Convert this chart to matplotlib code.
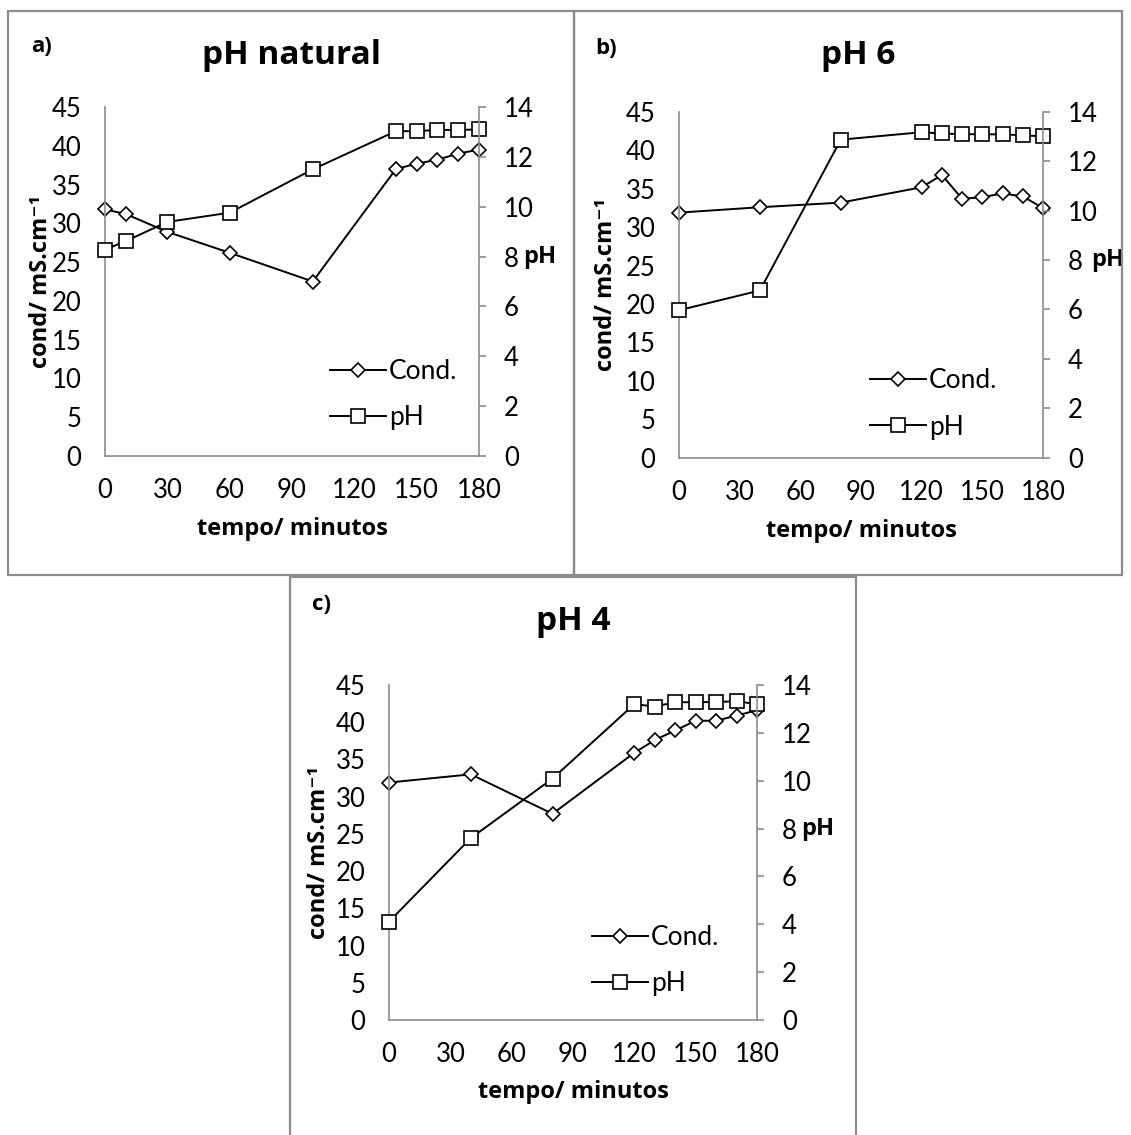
import matplotlib
matplotlib.use("Agg")
import matplotlib.pyplot as plt
from matplotlib.patches import Rectangle

W, H = 1131, 1135

# data
t_a = [0, 10, 30, 60, 100, 140, 150, 160, 170, 180]
cond_a = [31.8, 31.2, 28.9, 26.2, 22.5, 37.0, 37.7, 38.2, 39.0, 39.5]
ph_a = [8.28, 8.62, 9.39, 9.76, 11.5, 13.03, 13.03, 13.08, 13.08, 13.1]

t_b = [0, 40, 80, 120, 130, 140, 150, 160, 170, 180]
cond_b = [31.9, 32.6, 33.2, 35.2, 36.8, 33.7, 33.9, 34.4, 34.0, 32.5]
ph_b = [5.97, 6.77, 12.88, 13.18, 13.13, 13.1, 13.1, 13.09, 13.06, 13.01]

t_c = [0, 40, 80, 120, 130, 140, 150, 160, 170, 180]
cond_c = [31.9, 33.0, 27.7, 35.9, 37.6, 38.9, 40.2, 40.2, 40.9, 41.6]
ph_c = [4.11, 7.6, 10.09, 13.2, 13.1, 13.28, 13.28, 13.29, 13.32, 13.2]

x_ticks = [0, 30, 60, 90, 120, 150, 180]
cond_ticks = list(range(0, 46, 5))
ph_ticks = list(range(0, 15, 2))

GRAY = "#8c8c8c"
TICKFONT = "Lato"
BOLDFONT = ["Open Sans", "DejaVu Sans"]

fig = plt.figure(figsize=(W / 100, H / 100), dpi=100)


def px(x, y):
    return x / W, 1 - y / H


def box(x0, y0, x1, y1):
    fig.add_artist(Rectangle(px(x0, y1), (x1 - x0) / W, (y1 - y0) / H,
                             transform=fig.transFigure, fill=False,
                             edgecolor=GRAY, linewidth=1.6, clip_on=False))


def panel(left, top, right, bottom, t, cond, ph, letter, letter_xy, title, title_xy,
          leg_x, leg_y, ylab_x, phlab_x, xlab_y):
    ax = fig.add_axes([left / W, 1 - bottom / H, (right - left) / W, (bottom - top) / H])
    ax2 = ax.twinx()
    for a in (ax, ax2):
        a.spines["top"].set_visible(False)
        for s in ("left", "right", "bottom"):
            a.spines[s].set_color(GRAY)
            a.spines[s].set_linewidth(1.2)
    ax.spines["right"].set_visible(False)
    ax2.spines["left"].set_visible(False)
    ax2.spines["bottom"].set_visible(False)

    l1, = ax.plot(t, cond, color="black", lw=1.4, marker="D", ms=7.5,
                  mfc="white", mec="black", mew=1.2, clip_on=False, label="Cond.")
    l2, = ax2.plot(t, ph, color="black", lw=1.4, marker="s", ms=10.5,
                   mfc="white", mec="black", mew=1.2, clip_on=False, label="pH")

    ax.set_xlim(0, 180)
    ax.set_ylim(0, 45)
    ax2.set_ylim(0, 14)
    ax.set_xticks(x_ticks)
    ax.set_yticks(cond_ticks)
    ax2.set_yticks(ph_ticks)
    ax.tick_params(axis="x", length=0, pad=16, labelsize=18.5)
    ax.tick_params(axis="y", length=0, pad=17, labelsize=18.5)
    ax2.tick_params(axis="y", length=5, width=1.2, color=GRAY, pad=13, labelsize=18.5)
    for lab in ax.get_xticklabels() + ax.get_yticklabels() + ax2.get_yticklabels():
        lab.set_fontfamily(TICKFONT)

    ax.set_xlabel("tempo/ minutos", fontfamily=BOLDFONT, fontweight="bold",
                  fontsize=17, va="center")
    ax.xaxis.set_label_coords(0.5, xlab_y)
    ax.set_ylabel("cond/ mS.cm\u207b\u00b9", fontfamily=BOLDFONT,
                  fontweight="bold", fontsize=17, va="center")
    ax.yaxis.set_label_coords(ylab_x, 0.5)
    ax2.set_ylabel("pH", fontfamily=BOLDFONT, fontweight="bold", fontsize=17,
                   rotation=0, ha="left", va="center")
    ax2.yaxis.set_label_coords(phlab_x, 8 / 14)

    ax2.legend([l1, l2], ["Cond.", "pH"], loc="center left",
               bbox_to_anchor=(leg_x, leg_y), frameon=False, borderpad=0,
               borderaxespad=0, handlelength=2.1, handletextpad=0.12,
               labelspacing=0.8, numpoints=1,
               prop={"family": TICKFONT, "size": 19})

    fig.text(*px(*letter_xy), letter, fontfamily=BOLDFONT, fontweight="bold",
             fontsize=16, ha="left", va="center")
    fig.text(*px(*title_xy), title, fontfamily=BOLDFONT, fontweight="bold",
             fontsize=24, ha="center", va="center")


box(8, 11, 574, 575)
box(574, 11, 1122, 575)
box(290, 577, 856, 1140)

panel(105, 107, 479, 456, t_a, cond_a, ph_a, "a)", (31, 46), "pH natural", (291, 55),
      0.602, 0.176, -0.171, 1.118, -0.209)
panel(679, 112, 1043, 457.6, t_b, cond_b, ph_b, "b)", (595, 48), "pH 6", (858, 55),
      0.525, 0.155, -0.200, 1.131, -0.212)
panel(389, 685, 757, 1020, t_c, cond_c, ph_c, "c)", (312, 604), "pH 4", (573, 622),
      0.552, 0.178, -0.189, 1.120, -0.216)

fig.savefig("out.png", dpi=100, facecolor="white")
